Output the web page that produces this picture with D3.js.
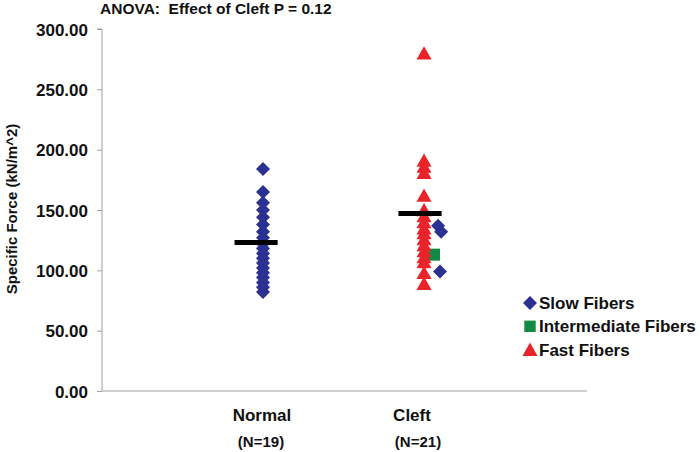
<!DOCTYPE html>
<html><head><meta charset="utf-8">
<script src="https://cdn.jsdelivr.net/npm/d3@7"></script>
<style>body{margin:0;background:#fff}svg{display:block;font-family:"Liberation Sans",Arial,sans-serif;font-weight:bold}</style>
</head><body><svg id="c" width="700" height="452"></svg>
<script>
const yTicks = [0, 50, 100, 150, 200, 250, 300];
const categories = ["Normal", "Cleft"];
const categoryN = ["(N=19)", "(N=21)"];
// Normal group (all slow fibers)
const normalSlow = [184, 165, 156, 150, 144, 138, 132, 127, 122, 118, 114, 110, 106, 102, 98, 94, 90, 86, 82];
// Cleft group
const cleftFast = [280, 191, 186, 181, 162, 150, 145, 140, 135, 131, 126, 121, 116, 111, 107, 98, 89];
const cleftSlow = [137, 132, 99];
const cleftSlowX = [2.087, 2.106, 2.099];
const cleftInter = [113];
const cleftInterX = [2.062];
const means = [123, 147];
const meanX = [0.957, 1.975];
const legendLabels = ["Slow Fibers", "Intermediate Fibers", "Fast Fibers"];
const colors = {slow: "#2B3192", inter: "#138A43", fast: "#E8242A"};

const svg = d3.select("#c");
const y = d3.scaleLinear().domain([0, 300]).range([391, 29]);
const x = d3.scaleLinear().domain([0, 3.012]).range([102, 587]);

// axes
const yAxis = d3.axisLeft(y).tickValues(yTicks).tickSize(5).tickFormat(d3.format(".2f"));
const gy = svg.append("g").attr("transform", "translate(102,0)").call(yAxis);
gy.select(".domain").attr("stroke", "#a0a0a0").attr("d", `M-5,${y(300)}H0V${y(0)}`);
gy.selectAll(".tick line").attr("stroke", "#a0a0a0");
gy.selectAll(".tick text").attr("x", -14).attr("dy", "0.36em").attr("font-size", 17).attr("font-weight", "bold").attr("fill", "#111").attr("font-family", "Liberation Sans, Arial, sans-serif");
svg.append("line").attr("x1", 102).attr("x2", 587).attr("y1", y(0)).attr("y2", y(0)).attr("stroke", "#a0a0a0").attr("stroke-width", 1.2);

// symbols
const diamond = {draw(c, s){const r = Math.sqrt(s)/2; c.moveTo(0,-r); c.lineTo(r,0); c.lineTo(0,r); c.lineTo(-r,0); c.closePath();}};
const tri = {draw(c, s){const w = Math.sqrt(s)/2; c.moveTo(0,-w); c.lineTo(w*1.08,w*0.9); c.lineTo(-w*1.08,w*0.9); c.closePath();}};
const sq = {draw(c, s){const w = Math.sqrt(s)/2; c.rect(-w, -w, 2*w, 2*w);}};
const symD = d3.symbol().type(diamond).size(196);
const symT = d3.symbol().type(tri).size(196);
const symS = d3.symbol().type(sq).size(144);

// Normal slow
svg.selectAll("path.ns").data(normalSlow).join("path").attr("class","ns")
  .attr("d", symD).attr("fill", colors.slow)
  .attr("transform", d => `translate(${x(1.0)},${y(d)})`);
// Cleft slow + intermediate (behind fast)
svg.selectAll("path.cs").data(cleftSlow).join("path").attr("class","cs")
  .attr("d", symD).attr("fill", colors.slow)
  .attr("transform", (d,i) => `translate(${x(cleftSlowX[i])},${y(d)})`);
svg.selectAll("path.ci").data(cleftInter).join("path").attr("class","ci")
  .attr("d", symS).attr("fill", colors.inter)
  .attr("transform", (d,i) => `translate(${x(cleftInterX[i])},${y(d)})`);
// Cleft fast
svg.selectAll("path.cf").data(cleftFast).join("path").attr("class","cf")
  .attr("d", symT).attr("fill", colors.fast)
  .attr("transform", d => `translate(${x(2.0)},${y(d)})`);

// mean lines
svg.selectAll("line.mean").data(means).join("line").attr("class","mean")
  .attr("x1", (d,i) => x(meanX[i] - 0.134))
  .attr("x2", (d,i) => x(meanX[i] + 0.134))
  .attr("y1", d => y(d)).attr("y2", d => y(d))
  .attr("stroke", "#000").attr("stroke-width", 5);

// category labels
const labX = [262, 412];
svg.selectAll("text.cat").data(categories).join("text").attr("class","cat")
  .attr("x", (d,i) => labX[i]).attr("y", 421).attr("text-anchor","middle")
  .attr("font-size", 17).attr("fill", "#111").text(d => d);
svg.selectAll("text.catn").data(categoryN).join("text").attr("class","catn")
  .attr("x", (d,i) => labX[i] + (i ? 6 : -1)).attr("y", 447).attr("text-anchor","middle")
  .attr("font-size", 15).attr("fill", "#111").text(d => d);

// title
svg.append("text").attr("x", 100).attr("y", 14).attr("font-size", 15.5).attr("fill", "#111")
  .attr("xml:space","preserve").text("ANOVA:  Effect of Cleft P = 0.12");
// y title
svg.append("text").attr("transform", "translate(17,209) rotate(-90)").attr("text-anchor","middle")
  .attr("font-size", 15).attr("fill", "#111").text("Specific Force (kN/m^2)");

// legend
const legSyms = [symD, symS, symT];
const legCols = [colors.slow, colors.inter, colors.fast];
const leg = svg.selectAll("g.leg").data(legendLabels).join("g").attr("class","leg")
  .attr("transform", (d,i) => `translate(530,${303 + i*23.3})`);
leg.append("path").attr("d", (d,i) => i === 1 ? d3.symbol().type(sq).size(130)() : legSyms[i]()).attr("fill", (d,i) => legCols[i]);
leg.append("text").attr("x", 9).attr("y", 6).attr("font-size", 17).attr("fill", "#111").text(d => d);
</script></body></html>
